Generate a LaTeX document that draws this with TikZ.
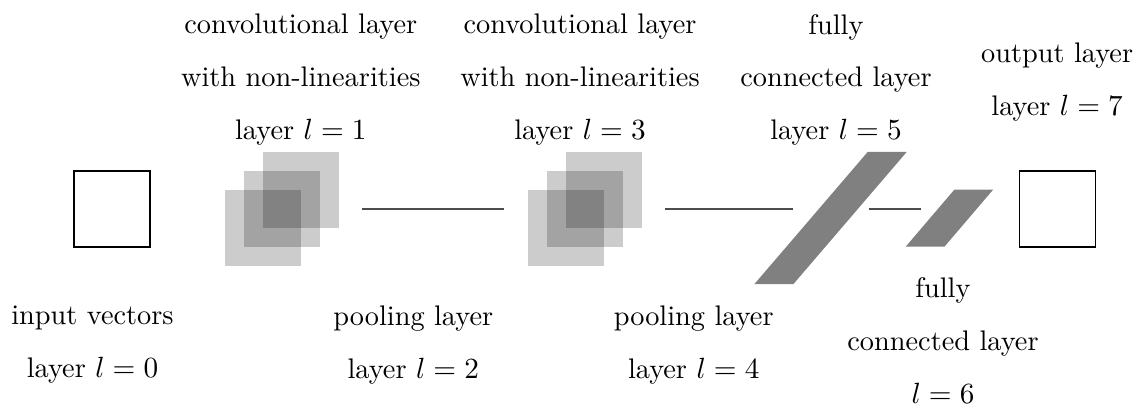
\documentclass[tikz,border=0pt]{standalone}
\usepackage{amsmath}
\usetikzlibrary{calc}
\tikzset{
  vec/.style={draw=black, thin, minimum size=1cm, inner sep=0pt},
  fmap/.style={fill=black, fill opacity=0.2, minimum size=1cm, inner sep=0pt},
  dense/.style={fill=black!50},
  link/.style={draw=black!70, thin, shorten <=0.3cm, shorten >=0.3cm},
  lbl/.style={font=\fontsize{10.6}{19.8}\selectfont, align=center, inner sep=0pt, anchor=north},
}
\begin{document}
\begin{tikzpicture}
  \useasboundingbox (0,0) rectangle (15.079,5.368);
  % input and output vectors
  \node[vec] (l0) at (1.474,2.618) {};
  \node[vec] (l7) at (13.912,2.618) {};
  % convolutional stacks
  \foreach \i/\d in {a/0,b/1,c/2} {
    \node[fmap] (l1\i) at (3.461+0.25*\d,2.368+0.25*\d) {};
    \node[fmap] (l3\i) at (7.441+0.25*\d,2.368+0.25*\d) {};
  }
  % fully connected layers
  \coordinate (l5) at (10.928,2.498);
  \coordinate (l6) at (12.492,2.497);
  \fill[dense] ([shift={(-1.003,-0.87)}]l5) -- ++(0.513,0) -- ++(1.492,1.74) -- ++(-0.513,0) -- cycle;
  \fill[dense] ([shift={(-0.575,-0.375)}]l6) -- ++(0.51,0) -- ++(0.64,0.75) -- ++(-0.51,0) -- cycle;
  % links
  \draw[link] (l1c.east |- l0) -- (l3a.west |- l0);
  \draw[link, shorten >=0.5cm] (l3c.east |- l0) -- (l5 |- l0);
  \draw[link, shorten <=0.5cm, shorten >=0.37cm] (l5 |- l0) -- (l6 |- l0);
  % labels
  \node[lbl] (t1) at (3.958,5.189) {convolutional layer\\with non-linearities\\layer $l=1$};
  \node[lbl] (t3) at (7.632,5.189) {convolutional layer\\with non-linearities\\layer $l=3$};
  \node[lbl] (t5) at (11.0,5.189) {fully\\connected layer\\layer $l=5$};
  \node[lbl] (t7) at (13.91,4.805) {output layer\\layer $l=7$};
  \node[lbl] (t0) at (1.217,1.351) {input vectors\\layer $l=0$};
  \node[lbl] (t2) at (5.438,1.351) {pooling layer\\layer $l=2$};
  \node[lbl] (t4) at (9.128,1.351) {pooling layer\\layer $l=4$};
  \node[lbl] (t6) at (12.408,1.724) {fully\\connected layer\\$l=6$};
\end{tikzpicture}
\end{document}
